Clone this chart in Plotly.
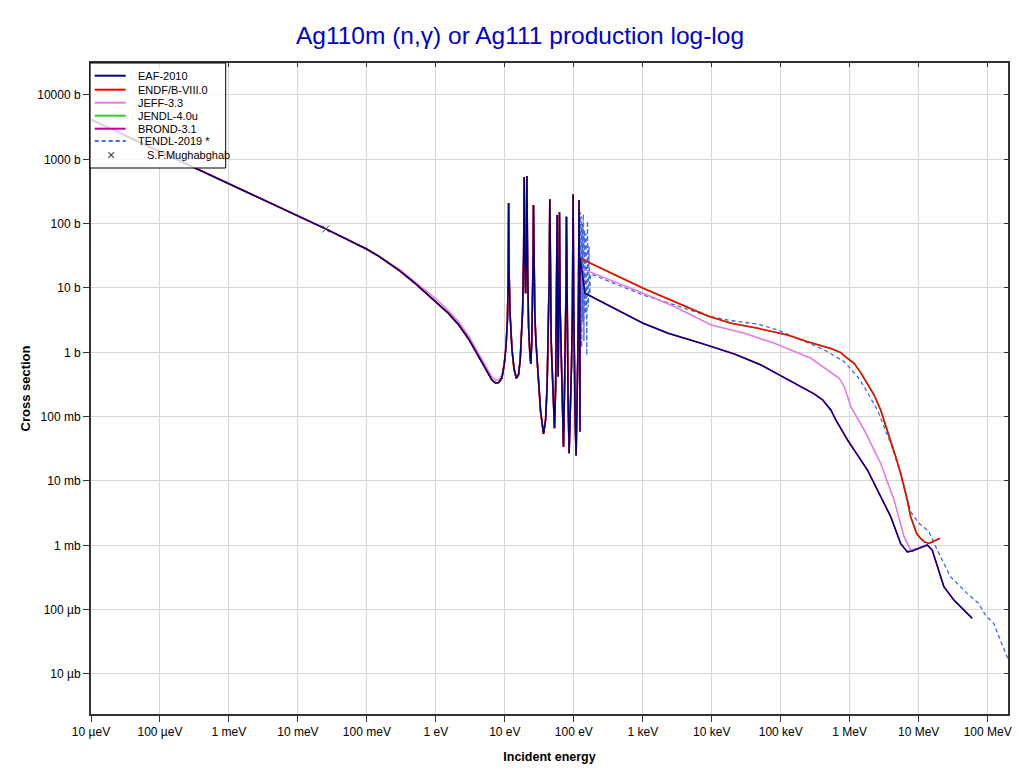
import plotly.graph_objects as go

# ---- data: common resolved-resonance region (eV, barn) ----
res_E = [1e-5, 1e-4, 1e-3, 0.01, 0.0253, 0.1, 0.15, 0.2, 0.3, 0.5, 0.7, 1.0, 1.5, 2.15, 3.0,
         4.2, 5.0, 5.8, 6.5, 7.36, 8.2, 9.08, 9.8, 10.4, 10.9, 11.2, 11.35, 11.5, 11.9, 12.7,
         13.6, 14.7, 15.8, 16.7, 17.5, 18.1, 18.7, 19.1, 19.5, 20.0, 20.5, 20.9, 21.4, 22.1,
         23.0, 23.8, 24.6, 25.2, 25.7, 26.0, 26.4, 27.2, 28.2, 30.8, 33.0, 36.4, 39.0, 41.0,
         42.8, 44.0, 44.9, 45.8, 47.0, 48.0, 50.0, 52.5, 54.5, 56.2, 57.3, 58.3, 59.3, 60.5,
         61.9, 63.3, 65.5, 68.0, 70.8, 73.0, 75.5, 77.2, 78.2, 79.3, 80.5, 82.5, 85.5, 89.0,
         92.5, 95.5, 97.7, 99.5, 102, 105, 108, 111, 114, 117, 119, 121, 122]
res_xs = [4150, 1320, 420, 132, 83, 40, 31, 25, 18.5, 11.8, 8.6, 6.2, 4.1, 2.66, 1.6,
          0.85, 0.6, 0.46, 0.37, 0.333, 0.34, 0.40, 0.65, 1.22, 3.2, 15, 209, 20, 4, 1.1,
          0.55, 0.395, 0.45, 0.76, 1.8, 4.5, 30, 530, 30, 8.3, 30, 550, 20, 2.5,
          1.0, 0.66, 1.5, 6, 30, 195, 20, 4, 1.5, 0.35, 0.12, 0.054, 0.09, 0.3,
          2.0, 15, 239, 12, 1.5, 0.76, 0.18, 0.066, 0.3, 5, 136, 3, 0.42, 4,
          150, 5, 0.76, 0.1, 0.034, 0.2, 1.2, 10, 128, 8, 1.5, 0.2, 0.027, 0.1,
          0.6, 5, 286, 6, 0.5, 0.08, 0.025, 0.1, 0.76, 8, 233, 5, 0.76]

# JEFF-3.3 below the first resonance (slightly higher)
jeff_low_E = [1e-5, 1e-4, 1e-3, 0.01, 0.0253, 0.1, 0.15, 0.2, 0.3, 0.5, 0.7, 1.0, 1.5, 2.15, 3.0,
              4.2, 5.0, 5.8, 6.5, 7.36, 8.2, 9.08, 9.8, 10.4, 10.9, 11.2]
jeff_low_xs = [4150, 1320, 420, 132, 83, 40, 31.2, 25.4, 19.2, 12.4, 9.2, 6.8, 4.5, 2.95, 1.78,
               0.95, 0.67, 0.51, 0.41, 0.37, 0.375, 0.44, 0.7, 1.3, 3.3, 15]

# fast regions
eaf_fast_E = [123, 123, 145, 1014, 2330, 7050, 21400, 51900, 1.41e5, 3.07e5, 4.05e5, 5.33e5, 6.3e5,
              9.29e5, 1.81e6, 2.52e6, 3.93e6, 5.47e6, 6.84e6, 8.09e6, 1.33e7, 1.57e7, 2.32e7, 3.24e7, 5.96e7]
eaf_fast_xs = [0.058, 30.3, 8.3, 2.83, 1.98, 1.38, 0.94, 0.635, 0.349, 0.225, 0.182, 0.127, 0.0887,
               0.0434, 0.0148, 0.00724, 0.00279, 0.00107, 0.00079, 0.00082, 0.00101, 0.000845, 0.000227,
               0.000141, 7.33e-5]

endf_fast_E = [123, 1014, 3620, 8810, 19100, 46500, 1.26e5, 2.45e5, 5.33e5, 7.44e5, 8.6e5, 1.16e6,
               1.45e6, 1.81e6, 2.26e6, 2.81e6, 3.33e6, 3.93e6, 4.64e6, 5.47e6, 6.14e6, 6.84e6,
               7.64e6, 8.55e6, 9.33e6, 1.06e7, 1.19e7, 1.41e7, 1.66e7, 2.03e7]
endf_fast_xs = [28.9, 9.89, 5.44, 3.67, 2.83, 2.36, 1.86, 1.46, 1.15, 0.99, 0.855, 0.675,
                0.48, 0.33, 0.217, 0.127, 0.074, 0.0434, 0.0239, 0.0132, 0.00815, 0.00506,
                0.00279, 0.00195, 0.00154, 0.00129, 0.00114, 0.00107, 0.00117, 0.00129]

jeff_fast_E = [127, 1014, 2910, 9840, 29900, 81100, 2.74e5, 4.78e5, 7.05e5, 8.34e5, 1.04e6, 1.62e6,
               2.81e6, 4.4e6, 6.14e6, 7.64e6, 9.55e6, 1.26e7]
jeff_fast_xs = [20.2, 8.3, 5.12, 2.66, 1.98, 1.38, 0.807, 0.531, 0.395, 0.292, 0.143, 0.062,
                0.0188, 0.00506, 0.00136, 0.000845, 0.000898, 0.00101]

tendl_urr_E = [122, 124, 126, 128, 130, 132, 134, 137, 140, 143, 146, 150, 154, 158, 162, 166, 170]
tendl_urr_xs = [1.0, 150, 2.0, 130, 1.2, 100, 3.0, 140, 1.5, 80, 4.0, 70, 0.9, 110, 5, 45, 8]

tendl_fast_E = [175, 1014, 2910, 8810, 19100, 46500, 90500, 1.76e5, 4.28e5, 8.34e5, 1.3e6, 1.62e6,
                2.52e6, 3.93e6, 5.47e6, 7.64e6, 1.01e7, 1.41e7, 1.86e7, 2.89e7, 5.04e7, 7.43e7,
                9.27e7, 1.22e8, 1.61e8, 1.95e8]
tendl_fast_xs = [16.5, 7.78, 5.44, 3.67, 3.1, 2.75, 2.22, 1.65, 1.09, 0.715, 0.418, 0.292,
                 0.127, 0.0385, 0.0132, 0.00333, 0.0022, 0.00163, 0.000845, 0.000325, 0.000179,
                 0.000125, 8.26e-5, 6.13e-5, 3.0e-5, 1.75e-5]

mugh_E = [0.0253]
mugh_xs = [82.6]

x_tickvals = [1e-5, 1e-4, 1e-3, 1e-2, 1e-1, 1, 10, 100, 1e3, 1e4, 1e5, 1e6, 1e7, 1e8]
x_ticktext = ["10 µeV", "100 µeV", "1 meV", "10 meV", "100 meV", "1 eV", "10 eV", "100 eV",
              "1 keV", "10 keV", "100 keV", "1 MeV", "10 MeV", "100 MeV"]
y_tickvals = [1e4, 1e3, 100, 10, 1, 0.1, 0.01, 1e-3, 1e-4, 1e-5]
y_ticktext = ["10000 b", "1000 b", "100 b", "10 b", "1 b", "100 mb", "10 mb", "1 mb", "100 µb", "10 µb"]

legend_names = ["EAF-2010", "ENDF/B-VIII.0", "JEFF-3.3", "JENDL-4.0u", "BROND-3.1", "TENDL-2019 *",
                "S.F.Mughabghab"]
legend_colors = ["#000080", "#FF0000", "#E07EE0", "#33CC33", "#C0008F", "#4169E1", "#444444"]

# ---- assemble series ----
res_hi_E = [e for e in res_E if e >= 11.3]
res_hi_xs = [s for e, s in zip(res_E, res_xs) if e >= 11.3]

eaf_E = res_E + eaf_fast_E
eaf_xs = res_xs + eaf_fast_xs
endf_E = res_E + endf_fast_E
endf_xs = res_xs + endf_fast_xs
jeff_E = jeff_low_E + res_hi_E + jeff_fast_E
jeff_xs = jeff_low_xs + res_hi_xs + jeff_fast_xs
tendl_E = res_E[:-1] + tendl_urr_E + tendl_fast_E
tendl_xs = res_xs[:-1] + tendl_urr_xs + tendl_fast_xs

FONT = "Liberation Sans, Arial, sans-serif"
X_RANGE = [-5, 8.295]
Y_RANGE = [-5.622, 4.497]

fig = go.Figure()
fig.add_trace(go.Scatter(x=tendl_E, y=tendl_xs, mode="lines", name=legend_names[5],
                         line=dict(color=legend_colors[5], width=1.3, dash="4px,3px")))
fig.add_trace(go.Scatter(x=eaf_E, y=eaf_xs, mode="lines", name=legend_names[4],
                         line=dict(color=legend_colors[4], width=1.6)))
fig.add_trace(go.Scatter(x=endf_E, y=endf_xs, mode="lines", name=legend_names[3],
                         line=dict(color=legend_colors[3], width=1.6)))
fig.add_trace(go.Scatter(x=jeff_E, y=jeff_xs, mode="lines", name=legend_names[2],
                         line=dict(color=legend_colors[2], width=1.6)))
fig.add_trace(go.Scatter(x=endf_E, y=endf_xs, mode="lines", name=legend_names[1],
                         line=dict(color=legend_colors[1], width=1.6)))
fig.add_trace(go.Scatter(x=eaf_E, y=eaf_xs, mode="lines", name=legend_names[0],
                         line=dict(color=legend_colors[0], width=1.4)))
fig.add_trace(go.Scatter(x=mugh_E, y=mugh_xs, mode="markers", name=legend_names[6],
                         marker=dict(symbol="x-thin", size=7, color=legend_colors[6],
                                     line=dict(width=1, color=legend_colors[6]))))
# invisible carrier trace for the mirrored (top/right) tick axes
fig.add_trace(go.Scatter(x=mugh_E, y=mugh_xs, mode="markers", xaxis="x2", yaxis="y2",
                         marker=dict(opacity=0), hoverinfo="skip", showlegend=False))

# ---- compact legend box (shapes + text annotations) ----
PW, PH = 917.0, 651.0
def px_x(p):
    return p / PW
def px_y(p):
    return 1 - p / PH

shapes = [dict(type="rect", xref="paper", yref="paper", x0=px_x(-1), x1=px_x(134.7),
               y0=px_y(105), y1=px_y(0), layer="above",
               fillcolor="rgba(255,255,255,0.82)", line=dict(color="#000000", width=1))]
annotations = []
row_y = [12.7, 26.7, 39.7, 52.7, 65.7, 78.0, 92.0]
for i, name in enumerate(legend_names):
    yy = px_y(row_y[i])
    if i < 6:
        shapes.append(dict(type="line", xref="paper", yref="paper", x0=px_x(3.7), x1=px_x(34.7),
                           y0=yy, y1=yy, layer="above",
                           line=dict(color=legend_colors[i], width=2,
                                     dash="4px,3px" if i == 5 else "solid")))
        tx = px_x(45.3)
    else:
        annotations.append(dict(xref="paper", yref="paper", x=px_x(19.7), y=yy, text="×",
                                showarrow=False, xanchor="center", yanchor="middle",
                                font=dict(family=FONT, size=14, color=legend_colors[6])))
        tx = px_x(53.7)
    annotations.append(dict(xref="paper", yref="paper", x=tx, y=yy, text=name, showarrow=False,
                            xanchor="left", yanchor="middle",
                            font=dict(family=FONT, size=11, color="#000000")))

axis_common = dict(
    type="log", showgrid=True, gridcolor="#d6d6d6", gridwidth=1,
    showline=True, linecolor="#333333", linewidth=2, mirror=True,
    ticks="outside", ticklen=6, tickcolor="#333333", tickwidth=1,
    zeroline=False, tickfont=dict(family=FONT, size=12, color="#000000"),
    ticklabeloverflow="allow",
)
mirror_common = dict(type="log", showgrid=False, showline=False, zeroline=False,
                     showticklabels=False, ticks="inside", ticklen=4, tickcolor="#333333",
                     tickwidth=1)

fig.update_layout(
    width=1004, height=756,
    paper_bgcolor="white", plot_bgcolor="white",
    margin=dict(l=83, r=4, t=55, b=50, autoexpand=False),
    title=dict(text="Ag110m (n,γ) or Ag111 production log-log", x=512 / 1004, xanchor="center",
               y=1 - 27 / 756, yanchor="middle",
               font=dict(family=FONT, size=24.5, color="#0000CD")),
    xaxis=dict(axis_common, range=X_RANGE, tickvals=x_tickvals, ticktext=x_ticktext,
               title=dict(text="<b>Incident energy</b>", standoff=15,
                          font=dict(family=FONT, size=12.5, color="#000000")), automargin=False),
    yaxis=dict(axis_common, range=Y_RANGE, tickvals=y_tickvals, ticktext=y_ticktext,
               title=dict(text="<b>Cross section</b>", standoff=4,
                          font=dict(family=FONT, size=13, color="#000000")), automargin=False),
    xaxis2=dict(mirror_common, range=X_RANGE, tickvals=x_tickvals, overlaying="x", side="top",
                anchor="y"),
    yaxis2=dict(mirror_common, range=Y_RANGE, tickvals=y_tickvals, overlaying="y", side="right",
                anchor="x"),
    showlegend=False,
    shapes=shapes,
    annotations=annotations,
)

fig.write_html("out.html")
